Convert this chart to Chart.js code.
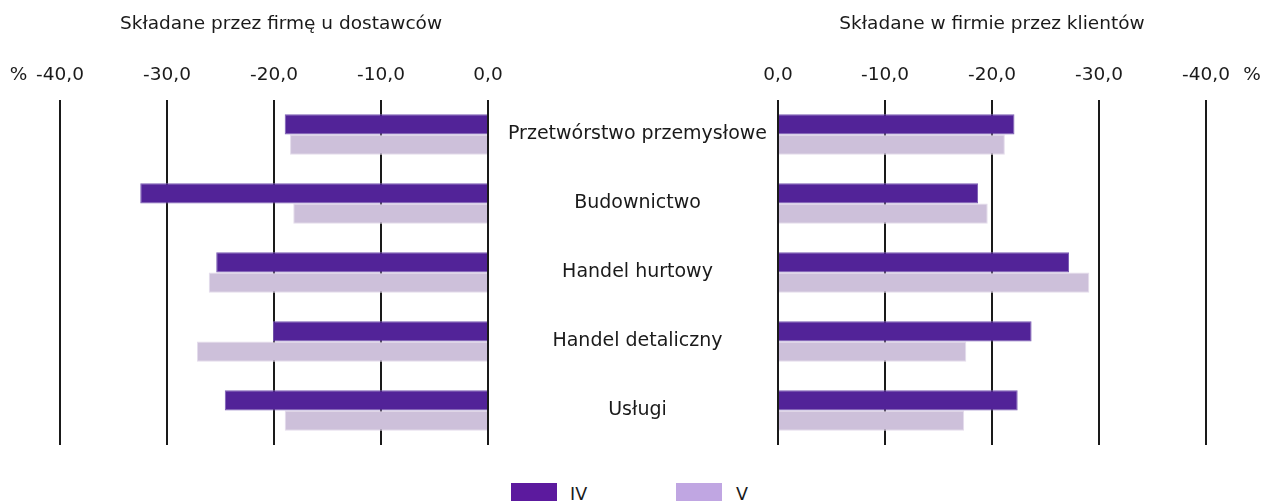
<!DOCTYPE html>
<html>
<head>
<meta charset="utf-8">
<script src="https://cdn.jsdelivr.net/npm/chart.js@4"></script>
<style>
  body { margin: 0; background: #fff; width: 1264px; height: 501px; overflow: hidden; position: relative; font-family: "DejaVu Sans", sans-serif; color: #1a1a1a; }
  .box { position: absolute; top: 0; height: 460px; }
  #leftBox { left: 0; width: 520px; }
  #rightBox { left: 500px; width: 764px; }
  .leg { position: absolute; top: 483px; height: 18px; }
  .legTxt { position: absolute; top: 484px; font-size: 17.5px; line-height: 20px; }
</style>
</head>
<body>
<div class="box" id="leftBox"><canvas id="left"></canvas></div>
<div class="box" id="rightBox"><canvas id="right"></canvas></div>
<div class="leg" style="left:511px;width:46px;background:#5c1a9e"></div>
<div class="legTxt" style="left:570px">IV</div>
<div class="leg" style="left:676px;width:46px;background:#c0a6e2"></div>
<div class="legTxt" style="left:736px">V</div>
<script>
const categories = ["Przetwórstwo przemysłowe", "Budownictwo", "Handel hurtowy", "Handel detaliczny", "Usługi"];
const seriesNames = ["IV", "V"];
// składane przez firmę u dostawców
const suppliersIV = [-19.0, -32.5, -25.4, -20.1, -24.6];
const suppliersV = [-18.5, -18.2, -26.1, -27.2, -19.0];
// składane w firmie przez klientów
const clientsIV = [-22.1, -18.7, -27.2, -23.7, -22.4];
const clientsV = [-21.2, -19.6, -29.1, -17.6, -17.4];
const axisTicks = [-40, -30, -20, -10, 0];

const FONT = "DejaVu Sans";
const TEXT = "#1a1a1a";
const FS = 18.5;

function fmt(v) {
    if (v === 0) return "0,0";
    return v.toFixed(1).replace(".", ",");
}

function makeDatasets(iv, v) {
    return [
        { label: seriesNames[0], data: iv, backgroundColor: "#522398", borderColor: "#7a5cb3", borderWidth: 1, categoryPercentage: 0.59, barPercentage: 1 },
        { label: seriesNames[1], data: v, backgroundColor: "#cdc0da", borderColor: "#e4dcec", borderWidth: 1, categoryPercentage: 0.59, barPercentage: 1 }
    ];
}

// "%" next to the outer tick label
function percentPlugin(offset, side) {
    return {
        id: "percent",
        afterDraw(chart) {
            const sc = chart.scales.x;
            const ctx = chart.ctx;
            ctx.save();
            ctx.font = FS + "px '" + FONT + "'";
            ctx.fillStyle = TEXT;
            ctx.textAlign = "center";
            ctx.textBaseline = "middle";
            const y = sc.bottom - 14 - FS * 0.6;
            const x = side === "left" ? chart.chartArea.left - offset : chart.chartArea.right + offset;
            ctx.fillText("%", x, y);
            ctx.restore();
        }
    };
}

function xScale(reverse) {
    return {
        position: "top",
        min: -40,
        max: 0,
        reverse: reverse,
        afterBuildTicks: sc => { sc.ticks = axisTicks.map(v => ({ value: v })); },
        ticks: { callback: v => fmt(v), color: TEXT, font: { family: FONT, size: FS }, padding: 14, maxRotation: 0 },
        grid: { color: TEXT, lineWidth: 2, drawTicks: false },
        border: { display: false }
    };
}

function titleOpts(text, full) {
    return {
        display: true,
        text: text,
        fullSize: full,
        color: TEXT,
        font: { family: FONT, size: FS, weight: "normal" },
        padding: { top: 13, bottom: 14.6 }
    };
}

new Chart(document.getElementById("left"), {
    type: "bar",
    data: { labels: categories, datasets: makeDatasets(suppliersIV, suppliersV) },
    options: {
        indexAxis: "y",
        responsive: true,
        maintainAspectRatio: false,
        animation: false,
        layout: { padding: { left: 60, right: 18, top: 0, bottom: 15 } },
        plugins: {
            legend: { display: false },
            tooltip: { enabled: false },
            title: titleOpts("Składane przez firmę u dostawców", true)
        },
        scales: {
            x: xScale(false),
            // empty category axis, only keeps a small gap right of the bars
            y: {
                position: "right",
                afterFit: sc => { sc.width = 14; sc.paddingTop = 0; sc.paddingBottom = 0; },
                ticks: { display: false },
                grid: { display: false },
                border: { display: false }
            }
        }
    },
    plugins: [percentPlugin(41.5, "left")]
});

new Chart(document.getElementById("right"), {
    type: "bar",
    data: { labels: categories, datasets: makeDatasets(clientsIV, clientsV) },
    options: {
        indexAxis: "y",
        responsive: true,
        maintainAspectRatio: false,
        animation: false,
        layout: { padding: { left: 0, right: 58, top: 0, bottom: 15 } },
        plugins: {
            legend: { display: false },
            tooltip: { enabled: false },
            title: titleOpts("Składane w firmie przez klientów", false)
        },
        scales: {
            x: xScale(true),
            y: {
                position: "left",
                afterFit: sc => { sc.width = 278; sc.paddingTop = 0; sc.paddingBottom = 0; },
                ticks: { crossAlign: "center", padding: 3, color: TEXT, font: { family: FONT, size: 19 } },
                grid: { display: false },
                border: { display: false }
            }
        }
    },
    plugins: [percentPlugin(46, "right")]
});
</script>
</body>
</html>
